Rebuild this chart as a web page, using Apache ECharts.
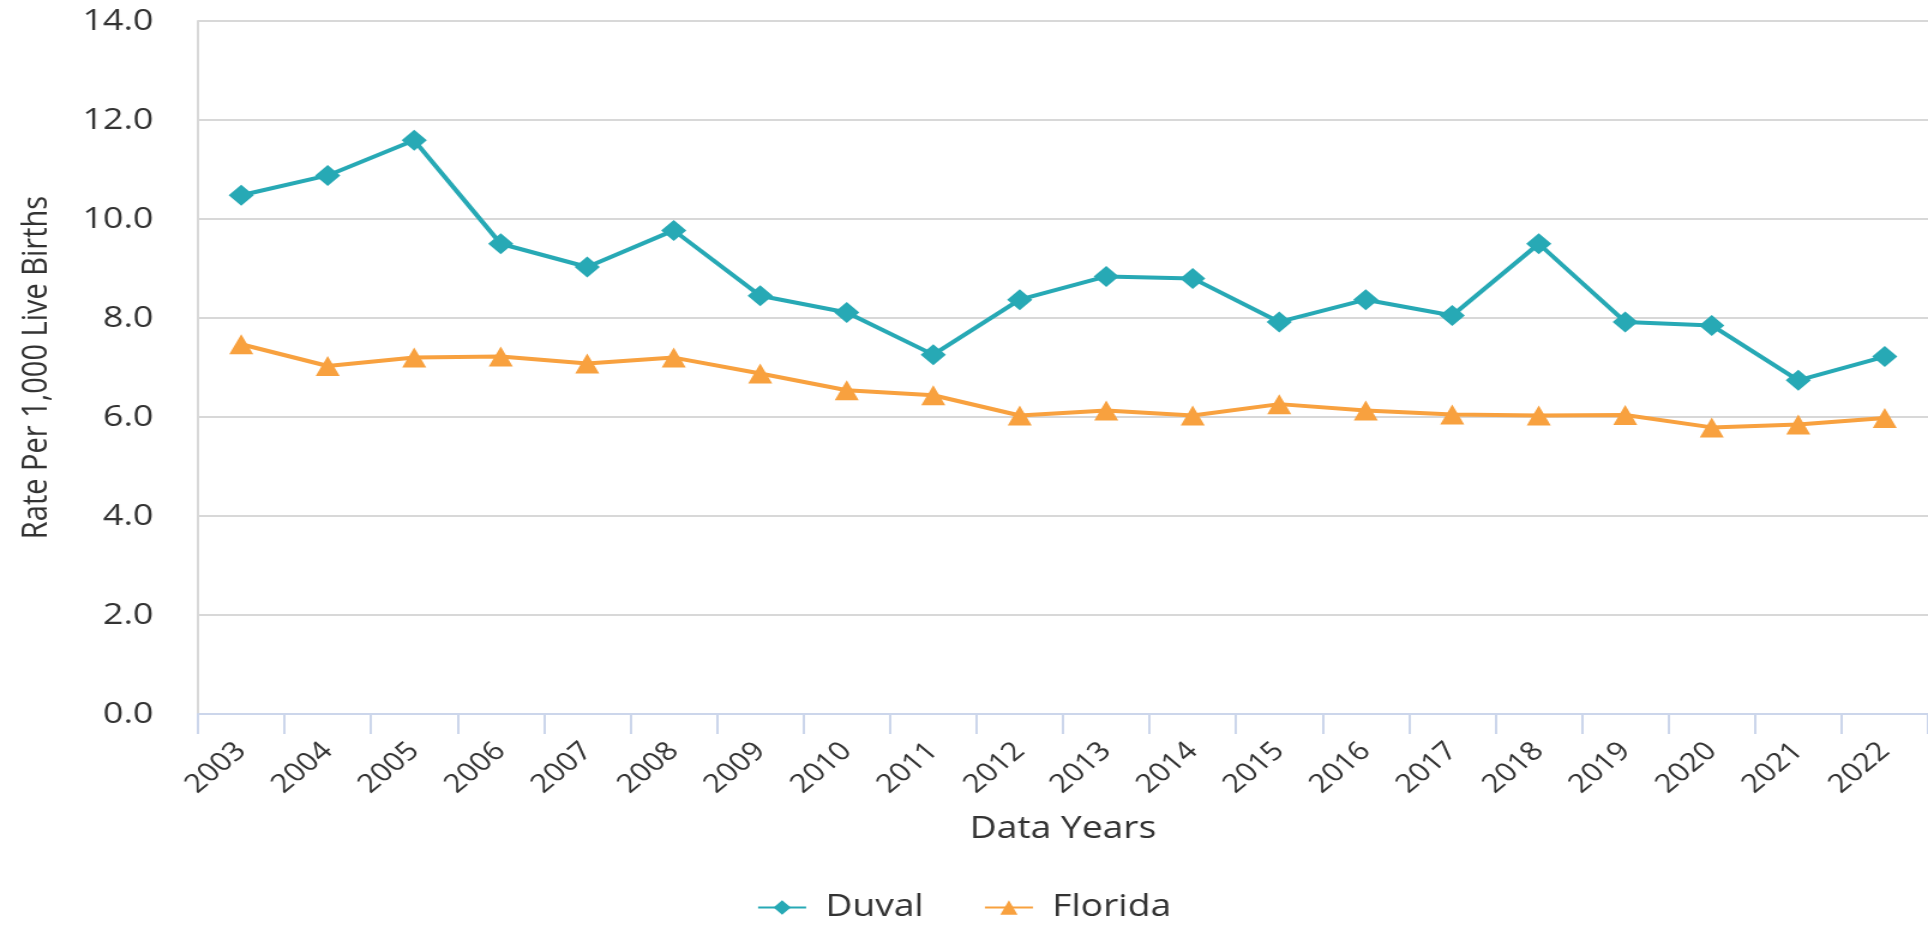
<!DOCTYPE html>
<html>
<head>
<meta charset="utf-8">
<script src="https://cdn.jsdelivr.net/npm/echarts@6/dist/echarts.min.js"></script>
<style>
  html, body { margin: 0; padding: 0; background: #fff; overflow: hidden; width: 1928px; height: 925px; }
  #chart { width: 1607px; height: 925px; transform: scaleX(1.19975); transform-origin: 0 0; }
</style>
</head>
<body>
<div id="chart"></div>
<script>
// Data
const years = ['2003','2004','2005','2006','2007','2008','2009','2010','2011','2012',
               '2013','2014','2015','2016','2017','2018','2019','2020','2021','2022'];
const duval = [10.48, 10.88, 11.59, 9.50, 9.03, 9.77, 8.45, 8.11, 7.26, 8.37,
               8.84, 8.80, 7.92, 8.37, 8.05, 9.50, 7.92, 7.85, 6.74, 7.22];
const florida = [7.47, 7.03, 7.20, 7.22, 7.08, 7.20, 6.88, 6.54, 6.44, 6.03,
                 6.13, 6.03, 6.26, 6.13, 6.05, 6.03, 6.04, 5.79, 5.85, 5.98];
const seriesNames = ['Duval', 'Florida'];
const yTicks = { min: 0, max: 14, step: 2 };

const FONT = "'Open Sans', 'Noto Sans', sans-serif";
const chart = echarts.init(document.getElementById('chart'), null, { renderer: 'canvas' });
chart.setOption({
  animation: false,
  backgroundColor: '#ffffff',
  color: ['#27a9b5', '#f8a13f'],
  grid: { left: 165, right: -4.5, top: 21, bottom: 211, containLabel: false },
  legend: {
    data: seriesNames,
    bottom: -3,
    left: 'center',
    itemWidth: 40,
    itemHeight: 18,
    itemGap: 50,
    textStyle: { fontFamily: FONT, fontSize: 31, color: '#333333', padding: [0, 0, 0, 11] }
  },
  xAxis: {
    type: 'category',
    data: years,
    boundaryGap: true,
    name: 'Data Years',
    nameLocation: 'middle',
    nameGap: 100,
    nameTextStyle: { fontFamily: FONT, fontSize: 31, color: '#333333' },
    axisLine: { show: true, lineStyle: { color: '#ccd6eb', width: 2 } },
    axisTick: { show: true, length: 20, alignWithLabel: false, lineStyle: { color: '#ccd6eb', width: 2 } },
    axisLabel: { rotate: 45, margin: 33, interval: 0, fontFamily: FONT, fontSize: 26, color: '#333333' },
    splitLine: { show: false }
  },
  yAxis: {
    type: 'value',
    min: yTicks.min,
    max: yTicks.max,
    interval: yTicks.step,
    name: 'Rate Per 1,000 Live Births',
    nameLocation: 'middle',
    nameGap: 120,
    nameTextStyle: { fontFamily: FONT, fontSize: 29, color: '#333333' },
    axisLine: { show: true, lineStyle: { color: '#d8d8d8', width: 2 } },
    axisTick: { show: false },
    axisLabel: {
      margin: 37,
      fontFamily: FONT, fontSize: 30, color: '#333333',
      formatter: v => v.toFixed(1)
    },
    splitLine: { show: true, lineStyle: { color: '#d8d8d8', width: 2 } }
  },
  series: [
    {
      name: seriesNames[0],
      type: 'line',
      data: duval,
      symbol: 'diamond',
      symbolSize: 21,
      lineStyle: { width: 4 },
      itemStyle: { color: '#27a9b5' }
    },
    {
      name: seriesNames[1],
      type: 'line',
      data: florida,
      symbol: 'triangle',
      symbolSize: 20,
      lineStyle: { width: 4 },
      itemStyle: { color: '#f8a13f' }
    }
  ]
});
</script>
</body>
</html>
